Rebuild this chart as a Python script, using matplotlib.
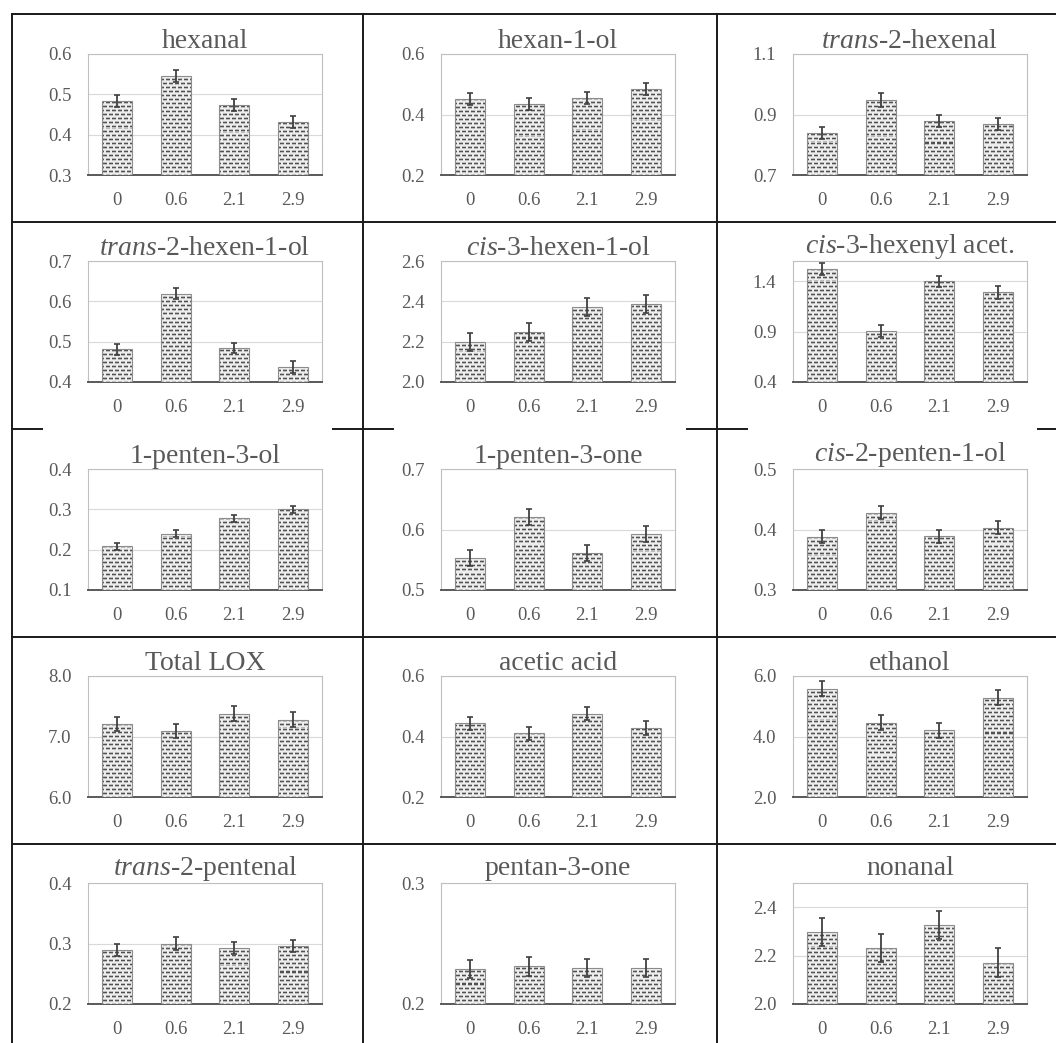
import numpy as np
import matplotlib
matplotlib.use("Agg")
import matplotlib.pyplot as plt
from matplotlib.lines import Line2D

plt.rcParams["font.family"] = ["Liberation Serif", "DejaVu Serif"]
plt.rcParams["mathtext.fontset"] = "custom"
plt.rcParams["mathtext.rm"] = "Liberation Serif"
plt.rcParams["mathtext.it"] = "Liberation Serif:italic"

# ---- data -------------------------------------------------------------
doses = ["0", "0.6", "2.1", "2.9"]

titles = [
    "hexanal", "hexan-1-ol", r"$\mathit{trans}$-2-hexenal",
    r"$\mathit{trans}$-2-hexen-1-ol", r"$\mathit{cis}$-3-hexen-1-ol", r"$\mathit{cis}$-3-hexenyl acet.",
    "1-penten-3-ol", "1-penten-3-one", r"$\mathit{cis}$-2-penten-1-ol",
    "Total LOX", "acetic acid", "ethanol",
    r"$\mathit{trans}$-2-pentenal", "pentan-3-one", "nonanal",
]

means = [
    [0.484, 0.545, 0.474, 0.431],
    [0.450, 0.435, 0.455, 0.485],
    [0.840, 0.948, 0.879, 0.869],
    [0.481, 0.619, 0.484, 0.437],
    [2.200, 2.250, 2.370, 2.385],
    [1.525, 0.903, 1.400, 1.288],
    [0.208, 0.240, 0.278, 0.300],
    [0.553, 0.621, 0.561, 0.593],
    [0.388, 0.428, 0.389, 0.403],
    [7.21, 7.09, 7.38, 7.28],
    [0.443, 0.410, 0.476, 0.428],
    [5.58, 4.45, 4.20, 5.28],
    [0.289, 0.300, 0.293, 0.296],
    [0.229, 0.231, 0.230, 0.230],
    [2.299, 2.230, 2.326, 2.171],
]

errors = [
    [0.015, 0.015, 0.015, 0.015],
    [0.020, 0.020, 0.020, 0.020],
    [0.020, 0.022, 0.020, 0.020],
    [0.013, 0.014, 0.012, 0.014],
    [0.045, 0.045, 0.045, 0.045],
    [0.060, 0.060, 0.056, 0.060],
    [0.009, 0.009, 0.009, 0.009],
    [0.013, 0.013, 0.013, 0.013],
    [0.011, 0.011, 0.011, 0.011],
    [0.12, 0.12, 0.12, 0.12],
    [0.022, 0.022, 0.022, 0.022],
    [0.25, 0.25, 0.25, 0.25],
    [0.010, 0.010, 0.010, 0.010],
    [0.0075, 0.0075, 0.0075, 0.0075],
    [0.058, 0.058, 0.059, 0.059],
]

y_limits = [
    (0.3, 0.6), (0.2, 0.6), (0.7, 1.1),
    (0.4, 0.7), (2.0, 2.6), (0.4, 1.6),
    (0.1, 0.4), (0.5, 0.7), (0.3, 0.5),
    (6.0, 8.0), (0.2, 0.6), (2.0, 6.0),
    (0.2, 0.4), (0.2, 0.3), (2.0, 2.5),
]

y_ticks = [
    [0.3, 0.4, 0.5, 0.6], [0.2, 0.4, 0.6], [0.7, 0.9, 1.1],
    [0.4, 0.5, 0.6, 0.7], [2.0, 2.2, 2.4, 2.6], [0.4, 0.9, 1.4],
    [0.1, 0.2, 0.3, 0.4], [0.5, 0.6, 0.7], [0.3, 0.4, 0.5],
    [6.0, 7.0, 8.0], [0.2, 0.4, 0.6], [2.0, 4.0, 6.0],
    [0.2, 0.3, 0.4], [0.2, 0.3], [2.0, 2.2, 2.4],
]

# ---- layout (pixels) --------------------------------------------------
W, H = 1056, 1043
fig = plt.figure(figsize=(W / 100, H / 100), dpi=100)
fig.patch.set_facecolor("white")

col_lines = [12, 363, 717]
row_lines = [14, 221.7, 429, 636.7, 843.5]
box_left = [88, 441, 793]
box_top0, row_step = 54, 207.3
box_w, box_h = 234, 121
title_pad_px = [2, 4, 4, 4, 8]

TXT = "#595959"


def fx(x):
    return x / W


def fy(y):
    return 1 - y / H


def dash_texture(h, w):
    """Staggered short-dash fill texture (RGB, 0..1)."""
    img = np.ones((h, w, 3))
    rows = np.arange(h)[:, None]
    cols = np.arange(w)[None, :]
    on_a = (cols % 6) < 4
    on_b = ((cols + 3) % 6) < 4
    row_a = (rows % 8 == 1) & on_a
    row_b = (rows % 8 == 5) & on_b
    halo_a = ((rows % 8 == 0) | (rows % 8 == 2)) & on_a
    halo_b = ((rows % 8 == 4) | (rows % 8 == 6)) & on_b
    img[...] = 0.93
    img[halo_a | halo_b] = 0.74
    img[row_a | row_b] = 0.32
    return img


texture = dash_texture(box_h, box_w)
xpos = np.arange(len(doses))

for k in range(15):
    r, c = divmod(k, 3)
    top = round(box_top0 + r * row_step)
    ax = fig.add_axes([fx(box_left[c]), fy(top + box_h), box_w / W, box_h / H])
    ax.set_facecolor("white")

    lo, hi = y_limits[k]
    bars = ax.bar(xpos, means[k], width=0.51, bottom=0, color="none",
                  edgecolor="#8c8c8c", linewidth=0.8, zorder=4)
    for b in bars:
        im = ax.imshow(texture, extent=(0, 1, 0, 1), transform=ax.transAxes,
                       interpolation="nearest", aspect="auto", zorder=3)
        im.set_clip_path(b)

    ax.errorbar(xpos, means[k], yerr=errors[k], fmt="none", ecolor="#404040",
                elinewidth=1.3, capsize=2.5, capthick=1.2, zorder=5)

    ax.set_xlim(-0.5, len(doses) - 0.5)
    ax.set_ylim(lo, hi)
    ax.set_xticks(xpos)
    ax.set_xticklabels(doses)
    ax.set_yticks(y_ticks[k])
    ax.set_yticklabels([f"{v:.1f}" for v in y_ticks[k]])
    ax.tick_params(axis="both", length=0, labelsize=13.5, labelcolor=TXT)
    ax.tick_params(axis="y", pad=12)
    ax.tick_params(axis="x", pad=12)

    ax.yaxis.grid(True, color="#d9d9d9", linewidth=0.8)
    ax.set_axisbelow(True)
    for side in ("top", "left", "right"):
        ax.spines[side].set_color("#bfbfbf")
        ax.spines[side].set_linewidth(0.8)
    ax.spines["bottom"].set_color("#595959")
    ax.spines["bottom"].set_linewidth(1.4)

    ax.set_title(titles[k], fontsize=20, color=TXT, pad=title_pad_px[r] * 0.72)

# ---- table rules ------------------------------------------------------
rule = dict(color="#1a1a1a", linewidth=1.4, zorder=10)
for x in col_lines:
    fig.add_artist(Line2D([fx(x), fx(x)], [fy(row_lines[0]), fy(H)], **rule))
for i, y in enumerate(row_lines):
    if i == 2:
        # rule under the second row is broken by the chart panels
        segs = [(12, 42), (333, 393), (687, 747), (1038, W)]
        for a, b in segs:
            fig.add_artist(Line2D([fx(a), fx(b)], [fy(y), fy(y)], **rule))
    else:
        fig.add_artist(Line2D([fx(col_lines[0]), fx(W)], [fy(y), fy(y)], **rule))

fig.savefig("out.png", dpi=100, facecolor="white")
